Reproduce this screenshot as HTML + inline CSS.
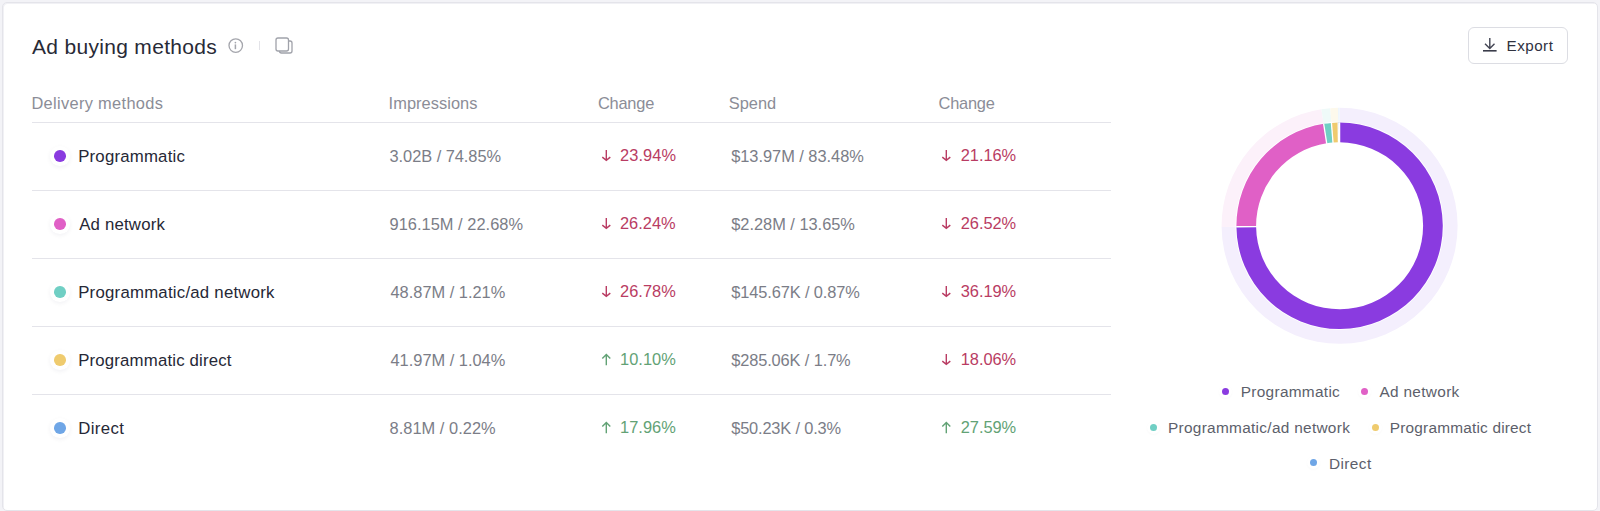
<!DOCTYPE html>
<html><head><meta charset="utf-8">
<style>
*{box-sizing:border-box;margin:0;padding:0}
html,body{width:1600px;height:511px;overflow:hidden;background:#f3f3f7;font-family:"Liberation Sans",sans-serif}
.card{position:absolute;left:2px;top:2px;width:1596px;height:509px;background:#fff;border:1px solid #e4e4ea;border-radius:5px;box-shadow:inset 1px 1px 0 #f1f1f5}
.t{position:absolute;white-space:nowrap}
.line{position:absolute;left:32px;width:1079px;height:1px;background:#e4e4ea}
.dot{position:absolute;width:11.6px;height:11.6px;border-radius:50%;box-shadow:0 0 0 4px #fff,0 1.5px 5px 3.5px rgba(30,30,70,0.07)}
.ldot{position:absolute;width:7px;height:7px;border-radius:50%;box-shadow:0 0 0 3px #fff,0 1px 3px 2px rgba(0,0,0,0.05)}
.btn{position:absolute;left:1467.5px;top:27.2px;width:100.5px;height:36.5px;border:1px solid #dcdde3;border-radius:6px;background:#fff}
</style></head><body>
<div class="card"></div>
<svg style="position:absolute;left:226px;top:36px" width="20" height="20" viewBox="0 0 20 20">
  <circle cx="9.75" cy="9.6" r="6.75" fill="none" stroke="#a4a5ac" stroke-width="1.3"/>
  <line x1="9.4" y1="8.4" x2="9.4" y2="13.2" stroke="#a4a5ac" stroke-width="1.5"/>
  <circle cx="9.4" cy="6.6" r="0.85" fill="#a4a5ac"/>
</svg>
<div style="position:absolute;left:259px;top:41px;width:1px;height:9px;background:#e3e3e8"></div>
<svg style="position:absolute;left:272px;top:34px" width="24" height="24" viewBox="0 0 24 24">
  <rect x="7.5" y="7" width="12.5" height="12" rx="2" fill="none" stroke="#a0a2aa" stroke-width="1.3"/>
  <rect x="4" y="4" width="12.5" height="13" rx="2" fill="#fff" stroke="#a0a2aa" stroke-width="1.3"/>
</svg>
<div class="btn"></div>
<svg style="position:absolute;left:1480px;top:35px" width="20" height="20" viewBox="0 0 20 20">
  <path d="M9.8 2.9v10.4M5 8.7L9.8 13.4L14.5 8.7" fill="none" stroke="#434553" stroke-width="1.4"/><path d="M3 15.8h13.6" stroke="#3a3c4a" stroke-width="1.6"/>
</svg>
<div class="line" style="top:122px"></div>
<div class="dot" style="left:54.1px;top:150.0px;background:#8a3be0"></div>
<svg style="position:absolute;left:600px;top:148px" width="13" height="16" viewBox="0 0 13 16"><path d="M6.3 2v10.4M2.3 9.1L6.3 12.4L10.3 9.1" fill="none" stroke="#b93c63" stroke-width="1.4"/></svg>
<svg style="position:absolute;left:940px;top:148px" width="13" height="16" viewBox="0 0 13 16"><path d="M6.3 2v10.4M2.3 9.1L6.3 12.4L10.3 9.1" fill="none" stroke="#b93c63" stroke-width="1.4"/></svg>
<div class="line" style="top:190px"></div>
<div class="dot" style="left:54.1px;top:218.0px;background:#e060c6"></div>
<svg style="position:absolute;left:600px;top:216px" width="13" height="16" viewBox="0 0 13 16"><path d="M6.3 2v10.4M2.3 9.1L6.3 12.4L10.3 9.1" fill="none" stroke="#b93c63" stroke-width="1.4"/></svg>
<svg style="position:absolute;left:940px;top:216px" width="13" height="16" viewBox="0 0 13 16"><path d="M6.3 2v10.4M2.3 9.1L6.3 12.4L10.3 9.1" fill="none" stroke="#b93c63" stroke-width="1.4"/></svg>
<div class="line" style="top:258px"></div>
<div class="dot" style="left:54.1px;top:286.0px;background:#70cfc4"></div>
<svg style="position:absolute;left:600px;top:284px" width="13" height="16" viewBox="0 0 13 16"><path d="M6.3 2v10.4M2.3 9.1L6.3 12.4L10.3 9.1" fill="none" stroke="#b93c63" stroke-width="1.4"/></svg>
<svg style="position:absolute;left:940px;top:284px" width="13" height="16" viewBox="0 0 13 16"><path d="M6.3 2v10.4M2.3 9.1L6.3 12.4L10.3 9.1" fill="none" stroke="#b93c63" stroke-width="1.4"/></svg>
<div class="line" style="top:326px"></div>
<div class="dot" style="left:54.1px;top:354.0px;background:#efcb6e"></div>
<svg style="position:absolute;left:600px;top:352px" width="13" height="16" viewBox="0 0 13 16"><path d="M6.3 3v10.2M2.3 6.4L6.3 2.5L10.3 6.4" fill="none" stroke="#62a275" stroke-width="1.4"/></svg>
<svg style="position:absolute;left:940px;top:352px" width="13" height="16" viewBox="0 0 13 16"><path d="M6.3 2v10.4M2.3 9.1L6.3 12.4L10.3 9.1" fill="none" stroke="#b93c63" stroke-width="1.4"/></svg>
<div class="line" style="top:394px"></div>
<div class="dot" style="left:54.1px;top:422.0px;background:#6fa6e6"></div>
<svg style="position:absolute;left:600px;top:420px" width="13" height="16" viewBox="0 0 13 16"><path d="M6.3 3v10.2M2.3 6.4L6.3 2.5L10.3 6.4" fill="none" stroke="#62a275" stroke-width="1.4"/></svg>
<svg style="position:absolute;left:940px;top:420px" width="13" height="16" viewBox="0 0 13 16"><path d="M6.3 3v10.2M2.3 6.4L6.3 2.5L10.3 6.4" fill="none" stroke="#62a275" stroke-width="1.4"/></svg>
<svg style="position:absolute;left:1209px;top:95px" width="262" height="262" viewBox="0 0 262 262">
<path d="M130.60 12.80A118.0 118.0 0 1 1 12.61 131.91L26.50 131.78A104.10000000000001 104.10000000000001 0 1 0 130.60 26.70Z" fill="#f4effd"/>
<path d="M130.60 27.60A103.2 103.2 0 1 1 27.40 131.77L47.10 131.59A83.5 83.5 0 1 0 130.60 47.30Z" fill="#8a3be0"/>
<path d="M12.61 131.91A118.0 118.0 0 0 1 112.36 14.22L114.51 27.95A104.10000000000001 104.10000000000001 0 0 0 26.50 131.78Z" fill="#fcf1fa"/>
<path d="M27.40 131.77A103.2 103.2 0 0 1 114.65 28.84L117.69 48.30A83.5 83.5 0 0 0 47.10 131.59Z" fill="#e060c6"/>
<path d="M112.36 14.22A118.0 118.0 0 0 1 121.27 13.17L122.37 27.03A104.10000000000001 104.10000000000001 0 0 0 114.51 27.95Z" fill="#effaf9"/>
<path d="M114.65 28.84A103.2 103.2 0 0 1 122.44 27.92L124.00 47.56A83.5 83.5 0 0 0 117.69 48.30Z" fill="#70cfc4"/>
<path d="M121.27 13.17A118.0 118.0 0 0 1 128.97 12.81L129.16 26.71A104.10000000000001 104.10000000000001 0 0 0 122.37 27.03Z" fill="#fdf9ec"/>
<path d="M122.44 27.92A103.2 103.2 0 0 1 129.17 27.61L129.45 47.31A83.5 83.5 0 0 0 124.00 47.56Z" fill="#efcb6e"/>
<path d="M128.97 12.81A118.0 118.0 0 0 1 130.60 12.80L130.60 26.70A104.10000000000001 104.10000000000001 0 0 0 129.16 26.71Z" fill="#eff6fd"/>
<path d="M129.17 27.61A103.2 103.2 0 0 1 130.60 27.60L130.60 47.30A83.5 83.5 0 0 0 129.45 47.31Z" fill="#6fa6e6"/>
<line x1="130.60" y1="48.30" x2="130.60" y2="27.40" stroke="#fff" stroke-width="1.3"/>
<line x1="48.10" y1="131.58" x2="27.20" y2="131.77" stroke="#fff" stroke-width="1.3"/>
<line x1="117.85" y1="49.29" x2="114.62" y2="28.64" stroke="#fff" stroke-width="1.3"/>
<line x1="124.08" y1="48.56" x2="122.42" y2="27.72" stroke="#fff" stroke-width="1.3"/>
<line x1="129.46" y1="48.31" x2="129.17" y2="27.41" stroke="#fff" stroke-width="1.3"/>
</svg>
<div class="ldot" style="left:1222.3px;top:388.1px;background:#8a3be0"></div>
<div class="ldot" style="left:1360.8px;top:388.3px;background:#e060c6"></div>
<div class="ldot" style="left:1149.5px;top:424.1px;background:#70cfc4"></div>
<div class="ldot" style="left:1371.5px;top:424.3px;background:#efcb6e"></div>
<div class="ldot" style="left:1310.0px;top:459.4px;background:#6fa6e6"></div>
<div class="t" style="left:32.00px;top:33px;font-size:21px;line-height:27px;color:#282a36;letter-spacing:0.312px">Ad buying methods</div>
<div class="t" style="left:31.40px;top:93px;font-size:16.4px;line-height:21px;color:#8b8d97;letter-spacing:0.327px">Delivery methods</div>
<div class="t" style="left:388.60px;top:93px;font-size:16.4px;line-height:21px;color:#8b8d97;letter-spacing:0.050px">Impressions</div>
<div class="t" style="left:597.90px;top:93px;font-size:16.4px;line-height:21px;color:#8b8d97;letter-spacing:-0.200px">Change</div>
<div class="t" style="left:728.80px;top:93px;font-size:16.4px;line-height:21px;color:#8b8d97;letter-spacing:-0.025px">Spend</div>
<div class="t" style="left:938.60px;top:93px;font-size:16.4px;line-height:21px;color:#8b8d97;letter-spacing:-0.240px">Change</div>
<div class="t" style="left:1506.50px;top:36px;font-size:15.2px;line-height:20px;color:#30323f;letter-spacing:0.500px">Export</div>
<div class="t" style="left:78.20px;top:146px;font-size:16.8px;line-height:22px;color:#262836;letter-spacing:0.200px">Programmatic</div>
<div class="t" style="left:389.50px;top:146px;font-size:16.4px;line-height:21px;color:#7b7d87;letter-spacing:-0.038px">3.02B / 74.85%</div>
<div class="t" style="left:620.00px;top:145px;font-size:16.4px;line-height:21px;color:#b93c63;letter-spacing:0.100px">23.94%</div>
<div class="t" style="left:731.20px;top:146px;font-size:16.4px;line-height:21px;color:#7b7d87;letter-spacing:-0.027px">$13.97M / 83.48%</div>
<div class="t" style="left:960.70px;top:145px;font-size:16.4px;line-height:21px;color:#b93c63;letter-spacing:-0.020px">21.16%</div>
<div class="t" style="left:79.20px;top:214px;font-size:16.8px;line-height:22px;color:#262836;letter-spacing:0.189px">Ad network</div>
<div class="t" style="left:389.50px;top:214px;font-size:16.4px;line-height:21px;color:#7b7d87;letter-spacing:0.033px">916.15M / 22.68%</div>
<div class="t" style="left:620.00px;top:213px;font-size:16.4px;line-height:21px;color:#b93c63;letter-spacing:0.000px">26.24%</div>
<div class="t" style="left:731.20px;top:214px;font-size:16.4px;line-height:21px;color:#7b7d87;letter-spacing:-0.014px">$2.28M / 13.65%</div>
<div class="t" style="left:960.70px;top:213px;font-size:16.4px;line-height:21px;color:#b93c63;letter-spacing:-0.020px">26.52%</div>
<div class="t" style="left:78.20px;top:282px;font-size:16.8px;line-height:22px;color:#262836;letter-spacing:0.232px">Programmatic/ad network</div>
<div class="t" style="left:390.50px;top:282px;font-size:16.4px;line-height:21px;color:#7b7d87;letter-spacing:0.000px">48.87M / 1.21%</div>
<div class="t" style="left:620.00px;top:281px;font-size:16.4px;line-height:21px;color:#b93c63;letter-spacing:0.050px">26.78%</div>
<div class="t" style="left:731.20px;top:282px;font-size:16.4px;line-height:21px;color:#7b7d87;letter-spacing:-0.113px">$145.67K / 0.87%</div>
<div class="t" style="left:960.70px;top:281px;font-size:16.4px;line-height:21px;color:#b93c63;letter-spacing:-0.020px">36.19%</div>
<div class="t" style="left:78.20px;top:350px;font-size:16.8px;line-height:22px;color:#262836;letter-spacing:0.178px">Programmatic direct</div>
<div class="t" style="left:390.50px;top:350px;font-size:16.4px;line-height:21px;color:#7b7d87;letter-spacing:0.000px">41.97M / 1.04%</div>
<div class="t" style="left:620.00px;top:349px;font-size:16.4px;line-height:21px;color:#62a275;letter-spacing:0.050px">10.10%</div>
<div class="t" style="left:731.20px;top:350px;font-size:16.4px;line-height:21px;color:#7b7d87;letter-spacing:-0.121px">$285.06K / 1.7%</div>
<div class="t" style="left:960.70px;top:349px;font-size:16.4px;line-height:21px;color:#b93c63;letter-spacing:-0.020px">18.06%</div>
<div class="t" style="left:78.20px;top:418px;font-size:16.8px;line-height:22px;color:#262836;letter-spacing:0.360px">Direct</div>
<div class="t" style="left:389.50px;top:418px;font-size:16.4px;line-height:21px;color:#7b7d87;letter-spacing:0.042px">8.81M / 0.22%</div>
<div class="t" style="left:620.00px;top:417px;font-size:16.4px;line-height:21px;color:#62a275;letter-spacing:0.050px">17.96%</div>
<div class="t" style="left:731.20px;top:418px;font-size:16.4px;line-height:21px;color:#7b7d87;letter-spacing:-0.169px">$50.23K / 0.3%</div>
<div class="t" style="left:960.70px;top:417px;font-size:16.4px;line-height:21px;color:#62a275;letter-spacing:-0.020px">27.59%</div>
<div class="t" style="left:1240.80px;top:382px;font-size:15.4px;line-height:20px;color:#5d5f6b;letter-spacing:0.291px">Programmatic</div>
<div class="t" style="left:1379.40px;top:382px;font-size:15.4px;line-height:20px;color:#5d5f6b;letter-spacing:0.322px">Ad network</div>
<div class="t" style="left:1168.00px;top:418px;font-size:15.4px;line-height:20px;color:#5d5f6b;letter-spacing:0.295px">Programmatic/ad network</div>
<div class="t" style="left:1389.80px;top:418px;font-size:15.4px;line-height:20px;color:#5d5f6b;letter-spacing:0.194px">Programmatic direct</div>
<div class="t" style="left:1328.90px;top:454px;font-size:15.4px;line-height:20px;color:#5d5f6b;letter-spacing:0.420px">Direct</div>
</body></html>
